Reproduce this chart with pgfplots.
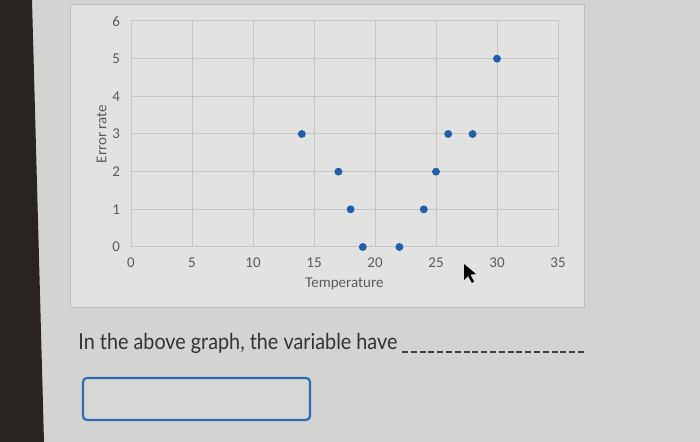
\documentclass[border=0pt]{standalone}
\usepackage{pgfplots}
\pgfplotsset{compat=1.18}
\usepackage{fontspec}
\setmainfont{Carlito}
\newfontfamily\latofont{Lato}

\definecolor{pagebg}{HTML}{D3D3D1}
\definecolor{chartbg}{HTML}{E2E2E0}
\definecolor{framecol}{HTML}{BDBDBB}
\definecolor{gridcol}{HTML}{C6C6C4}
\definecolor{ticktext}{HTML}{5A5A5A}
\definecolor{dotblue}{HTML}{1F5FB0}
\definecolor{boxblue}{HTML}{2E6DB4}
\definecolor{darkstrip}{HTML}{2A2420}

\pgfplotstableread{
x y
14 3
17 2
18 1
19 0
22 0
24 1
25 2
26 3
28 3
30 5
}\errordata

\begin{document}
\begin{tikzpicture}
% page background, 700x442 px at 0.5pt per px
\fill[pagebg] (0,0) rectangle (350pt,221pt);
\fill[darkstrip] (0,0) -- (22pt,0) -- (16pt,221pt) -- (0,221pt) -- cycle;
% chart area
\filldraw[fill=chartbg, draw=framecol, line width=0.5pt]
  (35pt,67pt) rectangle (292pt,218.5pt);

\begin{axis}[
    at={(65.5pt,97.5pt)}, anchor=south west,
    scale only axis,
    width=213.5pt, height=113pt,
    xmin=0, xmax=35, ymin=0, ymax=6,
    xtick={0,5,...,35}, ytick={0,1,...,6},
    grid=major,
    major grid style={gridcol, line width=0.5pt},
    axis line style={gridcol, line width=0.5pt},
    major tick length=0pt,
    tick label style={font=\fontsize{7.5}{8}\selectfont, text=ticktext},
    /pgf/number format/assume math mode=true,
    xticklabel style={yshift=-2pt},
    yticklabel style={xshift=-2pt},
    xlabel={Temperature},
    ylabel={Error rate},
    label style={font=\fontsize{7.5}{9}\selectfont, text=ticktext},
    xlabel style={yshift=2pt},
    ylabel style={yshift=-4pt},
    clip=false,
]
\addplot[only marks, mark=*, mark size=1.75pt, dotblue,
         mark options={draw=dotblue, fill=dotblue}] table[x=x, y=y] {\errordata};
\end{axis}

% mouse pointer
\fill[black] (232pt,89pt) -- (232pt,81pt) -- (234pt,83pt) -- (236pt,79.5pt)
  -- (237pt,80.3pt) -- (235.2pt,83.6pt) -- (238pt,84pt) -- cycle;

% question text
\node[anchor=base west, inner sep=0pt, text=black!80]
  at (39pt,46pt) {\scalebox{0.9}[1]{\latofont\fontsize{11}{13}\selectfont In the above graph, the variable have}};
\draw[black!75, line width=0.7pt, dash pattern=on 3pt off 1.4pt]
  (201pt,45pt) -- (293pt,45pt);
% answer box
\draw[boxblue, line width=1.1pt, rounded corners=2pt, fill=pagebg!90!white]
  (41.5pt,11pt) rectangle (155pt,32pt);
\end{tikzpicture}
\end{document}
